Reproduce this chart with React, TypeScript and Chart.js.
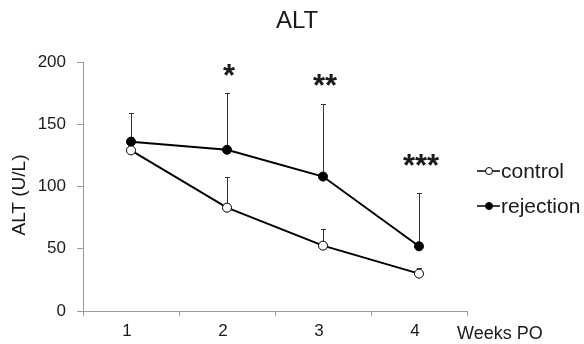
import React, { useEffect, useRef } from 'react';
import { Chart, registerables } from 'chart.js';
Chart.register(...registerables);

const weeks = ['1', '2', '3', '4'];
const controlMean = [129, 83, 52.5, 30];
const controlSD = [11, 25, 13, 4.5];
const rejectionMean = [136, 129.5, 108, 52];
const rejectionSD = [23, 46, 58, 43];
const significance = ['', '*', '**', '***'];
const significanceY = [0, 190, 182, 118];
const yTickValues = [0, 50, 100, 150, 200];
const seriesLabels = ['control', 'rejection'];
const chartTitle = 'ALT';
const yTitle = 'ALT (U/L)';
const xTitle = 'Weeks PO';

const FONT = '"Liberation Sans", Arial, sans-serif';
const TEXT = '#1a1a1a';
const AXIS = '#9a9a9a';

const sdList = [controlSD, rejectionSD];

const decorPlugin = {
  id: 'decor',
  beforeDatasetsDraw(chart: any) {
    const ctx = chart.ctx;
    const y = chart.scales.y;
    ctx.save();
    ctx.strokeStyle = '#333';
    ctx.lineWidth = 1;
    chart.data.datasets.forEach((ds: any, di: number) => {
      const meta = chart.getDatasetMeta(di);
      meta.data.forEach((pt: any, i: number) => {
        const top = y.getPixelForValue(ds.data[i] + sdList[di][i]);
        const px = Math.round(pt.x) + 0.5;
        ctx.beginPath();
        ctx.moveTo(px, pt.y);
        ctx.lineTo(px, Math.round(top) + 0.5);
        ctx.moveTo(px - 2.5, Math.round(top) + 0.5);
        ctx.lineTo(px + 2.5, Math.round(top) + 0.5);
        ctx.stroke();
      });
    });
    ctx.restore();
  },
  afterDraw(chart: any) {
    const ctx = chart.ctx;
    const xs = chart.scales.x;
    const ys = chart.scales.y;
    ctx.save();
    ctx.fillStyle = TEXT;
    // title
    ctx.font = `24px ${FONT}`;
    ctx.textAlign = 'center';
    ctx.textBaseline = 'middle';
    ctx.fillText(chartTitle, 297, 21);
    // y title
    ctx.save();
    ctx.translate(20, 195);
    ctx.rotate(-Math.PI / 2);
    ctx.font = `19px ${FONT}`;
    ctx.fillText(yTitle, 0, 0);
    ctx.restore();
    // x title
    ctx.font = `18px ${FONT}`;
    ctx.textAlign = 'left';
    ctx.fillText(xTitle, 457, 334);
    // significance
    ctx.font = `bold 31px ${FONT}`;
    ctx.textAlign = 'center';
    ctx.textBaseline = 'middle';
    significance.forEach((s, i) => {
      if (!s) return;
      ctx.fillText(s, xs.getPixelForValue(i) + 2, ys.getPixelForValue(significanceY[i]) + 3);
    });
    // legend
    const legendY = [171, 206];
    seriesLabels.forEach((lab, i) => {
      const ly = legendY[i];
      ctx.strokeStyle = '#000';
      ctx.lineWidth = 1.5;
      ctx.beginPath();
      ctx.moveTo(477, ly);
      ctx.lineTo(500, ly);
      ctx.stroke();
      ctx.beginPath();
      ctx.arc(489, ly, 3.5, 0, Math.PI * 2);
      ctx.fillStyle = i === 0 ? '#fff' : '#000';
      ctx.fill();
      ctx.lineWidth = 1;
      ctx.stroke();
      ctx.fillStyle = TEXT;
      ctx.font = `21px ${FONT}`;
      ctx.textAlign = 'left';
      ctx.textBaseline = 'middle';
      ctx.fillText(lab, 501, ly + 1);
    });
    ctx.restore();
  },
};

export default function App() {
  const ref = useRef<HTMLCanvasElement | null>(null);
  useEffect(() => {
    if (!ref.current) return;
    const chart = new Chart(ref.current, {
      type: 'line',
      data: {
        labels: weeks,
        datasets: [
          {
            label: seriesLabels[0],
            data: controlMean,
            borderColor: '#000',
            borderWidth: 2,
            backgroundColor: '#fff',
            pointBackgroundColor: '#fff',
            pointBorderColor: '#000',
            pointBorderWidth: 1,
            pointRadius: 4.5,
            tension: 0,
          },
          {
            label: seriesLabels[1],
            data: rejectionMean,
            borderColor: '#000',
            borderWidth: 2,
            backgroundColor: '#000',
            pointBackgroundColor: '#000',
            pointBorderColor: '#000',
            pointBorderWidth: 1,
            pointRadius: 4.5,
            tension: 0,
          },
        ],
      },
      options: {
        animation: false,
        responsive: false,
        devicePixelRatio: 1,
        layout: { padding: { left: 0, right: 117, top: 62, bottom: 0 } },
        plugins: {
          legend: { display: false },
          title: { display: false },
          tooltip: { enabled: false },
        },
        scales: {
          x: {
            type: 'category',
            offset: true,
            grid: {
              offset: true,
              drawOnChartArea: false,
              drawTicks: true,
              tickLength: 5,
              color: AXIS,
            },
            border: { color: AXIS, width: 1 },
            ticks: {
              color: TEXT,
              font: { family: FONT, size: 17 },
              padding: 5,
              labelOffset: -4,
            },
            afterFit(scale: any) {
              scale.height = 33;
            },
          },
          y: {
            min: 0,
            max: 200,
            afterBuildTicks(scale: any) {
              scale.ticks = yTickValues.map((v) => ({ value: v }));
            },
            grid: {
              drawOnChartArea: false,
              drawTicks: true,
              tickLength: 6,
              color: AXIS,
            },
            border: { color: AXIS, width: 1 },
            ticks: {
              color: TEXT,
              font: { family: FONT, size: 17 },
              padding: 11,
            },
            afterFit(scale: any) {
              scale.width = 83;
            },
          },
        },
      },
      plugins: [decorPlugin],
    } as any);
    return () => chart.destroy();
  }, []);
  return (
    <div style={{ position: 'fixed', left: 0, top: 0, width: 584, height: 344, background: '#fff' }}>
      <canvas ref={ref} width={584} height={344} style={{ width: 584, height: 344, display: 'block' }} />
    </div>
  );
}
